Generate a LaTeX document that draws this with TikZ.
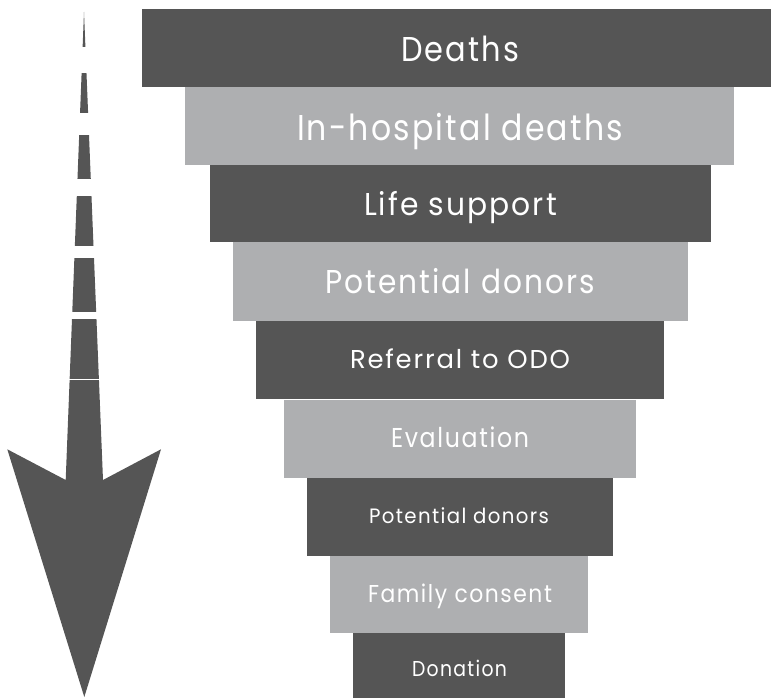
\documentclass[tikz,border=0pt]{standalone}
\usepackage{fontspec}
\setmainfont{Poppins}[LetterSpace=7]
\usepackage{graphicx}
\definecolor{dk}{HTML}{555555}
\definecolor{lt}{HTML}{AEAFB1}
\newlength\fitcap
\newlength\fitwd
\newcommand\fitlabel[3]{%
  \settoheight\fitcap{\fontsize{10}{12}\selectfont H}%
  \pgfmathsetmacro\fitsz{10*#1/\fitcap}%
  \fontsize{\fitsz}{\fitsz}\selectfont
  \settowidth\fitwd{#3}%
  \pgfmathsetmacro\fitsx{#2/\fitwd}%
  \scalebox{\fitsx}[1]{#3}}
\tikzset{
  bar/.style={anchor=north west, inner sep=0pt, outer sep=0pt, draw=none},
  darkbar/.style={bar, fill=dk},
  lightbar/.style={bar, fill=lt},
  lbl/.style={anchor=base, inner sep=0pt, outer sep=0pt, text=white},
  gap/.style={fill=white, draw=none}
}
\begin{document}
\begin{tikzpicture}[x=1pt, y=-1pt]
\useasboundingbox (0,0) rectangle (771,698);
\clip (0,0) rectangle (771,698);
% arrow
\fill[dk] (84,12) -- (103,480) -- (161,449.3) -- (84.3,697) -- (7.3,449.3) -- (65.7,480) -- cycle;
\path[gap] (50,47) rectangle (120,73);
\path[gap] (50,113) rectangle (120,135);
\path[gap] (50,179) rectangle (120,196);
\path[gap] (50,246) rectangle (120,258);
\path[gap] (50,312) rectangle (120,319);
\path[gap] (50,378.5) rectangle (120,380);
% bars
\node[darkbar,  minimum width=636pt, minimum height=78pt] (b1) at (142,9) {};
\node[lightbar, minimum width=549pt, minimum height=78pt] (b2) at (185,87) {};
\node[darkbar,  minimum width=501pt, minimum height=77pt] (b3) at (210,165) {};
\node[lightbar, minimum width=455pt, minimum height=78.5pt] (b4) at (233,242) {};
\node[darkbar,  minimum width=408pt, minimum height=78.2pt] (b5) at (256,320.5) {};
\node[lightbar, minimum width=352pt, minimum height=77.7pt] (b6) at (284,400) {};
\node[darkbar,  minimum width=306pt, minimum height=78pt] (b7) at (307,477.7) {};
\node[lightbar, minimum width=258pt, minimum height=77.3pt] (b8) at (330,555.7) {};
\node[darkbar,  minimum width=212pt, minimum height=70pt] (b9) at (353,633) {};
% labels
\node[lbl] (t1) at (460,62)    {\fitlabel{24}{118}{Deaths}};
\node[lbl] (t2) at (460,141)   {\fitlabel{25}{326}{In-hospital deaths}};
\node[lbl] (t3) at (460.5,215) {\fitlabel{22}{193}{Life support}};
\node[lbl] (t4) at (460,293)   {\fitlabel{23}{270}{Potential donors}};
\node[lbl] (t5) at (460,368)   {\fitlabel{18}{220}{Referral to ODO}};
\node[lbl] (t6) at (460,447)   {\fitlabel{19}{138}{Evaluation}};
\node[lbl] (t7) at (459,523)   {\fitlabel{14.5}{180}{Potential donors}};
\node[lbl] (t8) at (460,602.5) {\fitlabel{17}{184}{Family consent}};
\node[lbl] (t9) at (459.5,676) {\fitlabel{15}{95}{Donation}};
\end{tikzpicture}
\end{document}
